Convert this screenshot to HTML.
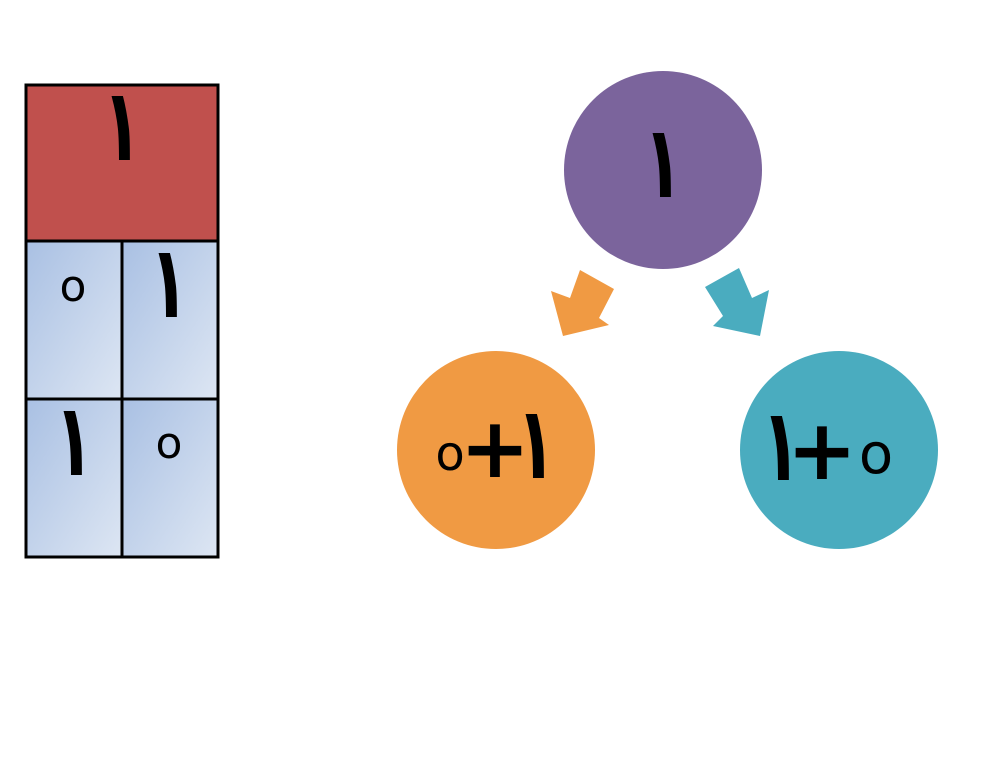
<!DOCTYPE html>
<html><head><meta charset="utf-8"><style>
html,body{margin:0;padding:0;background:#fff;}
svg{display:block;}
text{font-family:"DejaVu Sans","Liberation Sans",sans-serif;fill:#000;}
</style></head><body>
<svg width="1007" height="765" viewBox="0 0 1007 765" xmlns="http://www.w3.org/2000/svg">
<defs>
<linearGradient id="g" x1="0" y1="0" x2="1" y2="1">
<stop offset="0" stop-color="#a9c0e3"/><stop offset="1" stop-color="#dde6f3"/>
</linearGradient>
</defs>
<rect x="26" y="85" width="192" height="156" fill="#c0504d"/>
<rect x="26" y="241" width="96" height="158" fill="url(#g)"/>
<rect x="122" y="241" width="96" height="158" fill="url(#g)"/>
<rect x="26" y="399" width="96" height="158" fill="url(#g)"/>
<rect x="122" y="399" width="96" height="158" fill="url(#g)"/>
<g stroke="#000" stroke-width="3" fill="none">
<rect x="26" y="85" width="192" height="472"/>
<line x1="26" y1="241" x2="218" y2="241"/>
<line x1="26" y1="399" x2="218" y2="399"/>
<line x1="122" y1="241" x2="122" y2="557"/>
</g>
<g font-weight="bold" text-anchor="middle" font-size="90">
<text transform="translate(122,160) scale(0.7,1.12)">١</text>
<text transform="translate(169,317) scale(0.7,1.12)">١</text>
<text transform="translate(74,475) scale(0.7,1.12)">١</text>
</g>
<g text-anchor="middle" font-size="44">
<text x="73" y="301">o</text>
<text x="169" y="458">o</text>
</g>
<circle cx="663" cy="170" r="99" fill="#7b649c"/>
<circle cx="496" cy="450" r="99" fill="#f09a43"/>
<circle cx="839" cy="450" r="99" fill="#4aacbf"/>
<polygon points="580,270 614,289 599,318 609,325 563,336 551,291 570,298" fill="#f09a43"/>
<polygon points="739,268 705,287 723,316 713,326 760,336 769,290 752,298" fill="#4aacbf"/>
<g font-weight="bold" text-anchor="middle" font-size="90">
<text transform="translate(663,197) scale(0.7,1.12)">١</text>
<text transform="translate(536,478) scale(0.7,1.12)">١</text>
<text transform="translate(781,480) scale(0.7,1.12)">١</text>
</g>
<g text-anchor="middle">
<text x="450" y="470" font-size="48">o</text>
<text x="495" y="477" font-size="84" font-weight="bold">+</text>
<text x="822" y="479" font-size="84" font-weight="bold">+</text>
<text x="876" y="473" font-size="56">o</text>
</g>
</svg>
</body></html>
